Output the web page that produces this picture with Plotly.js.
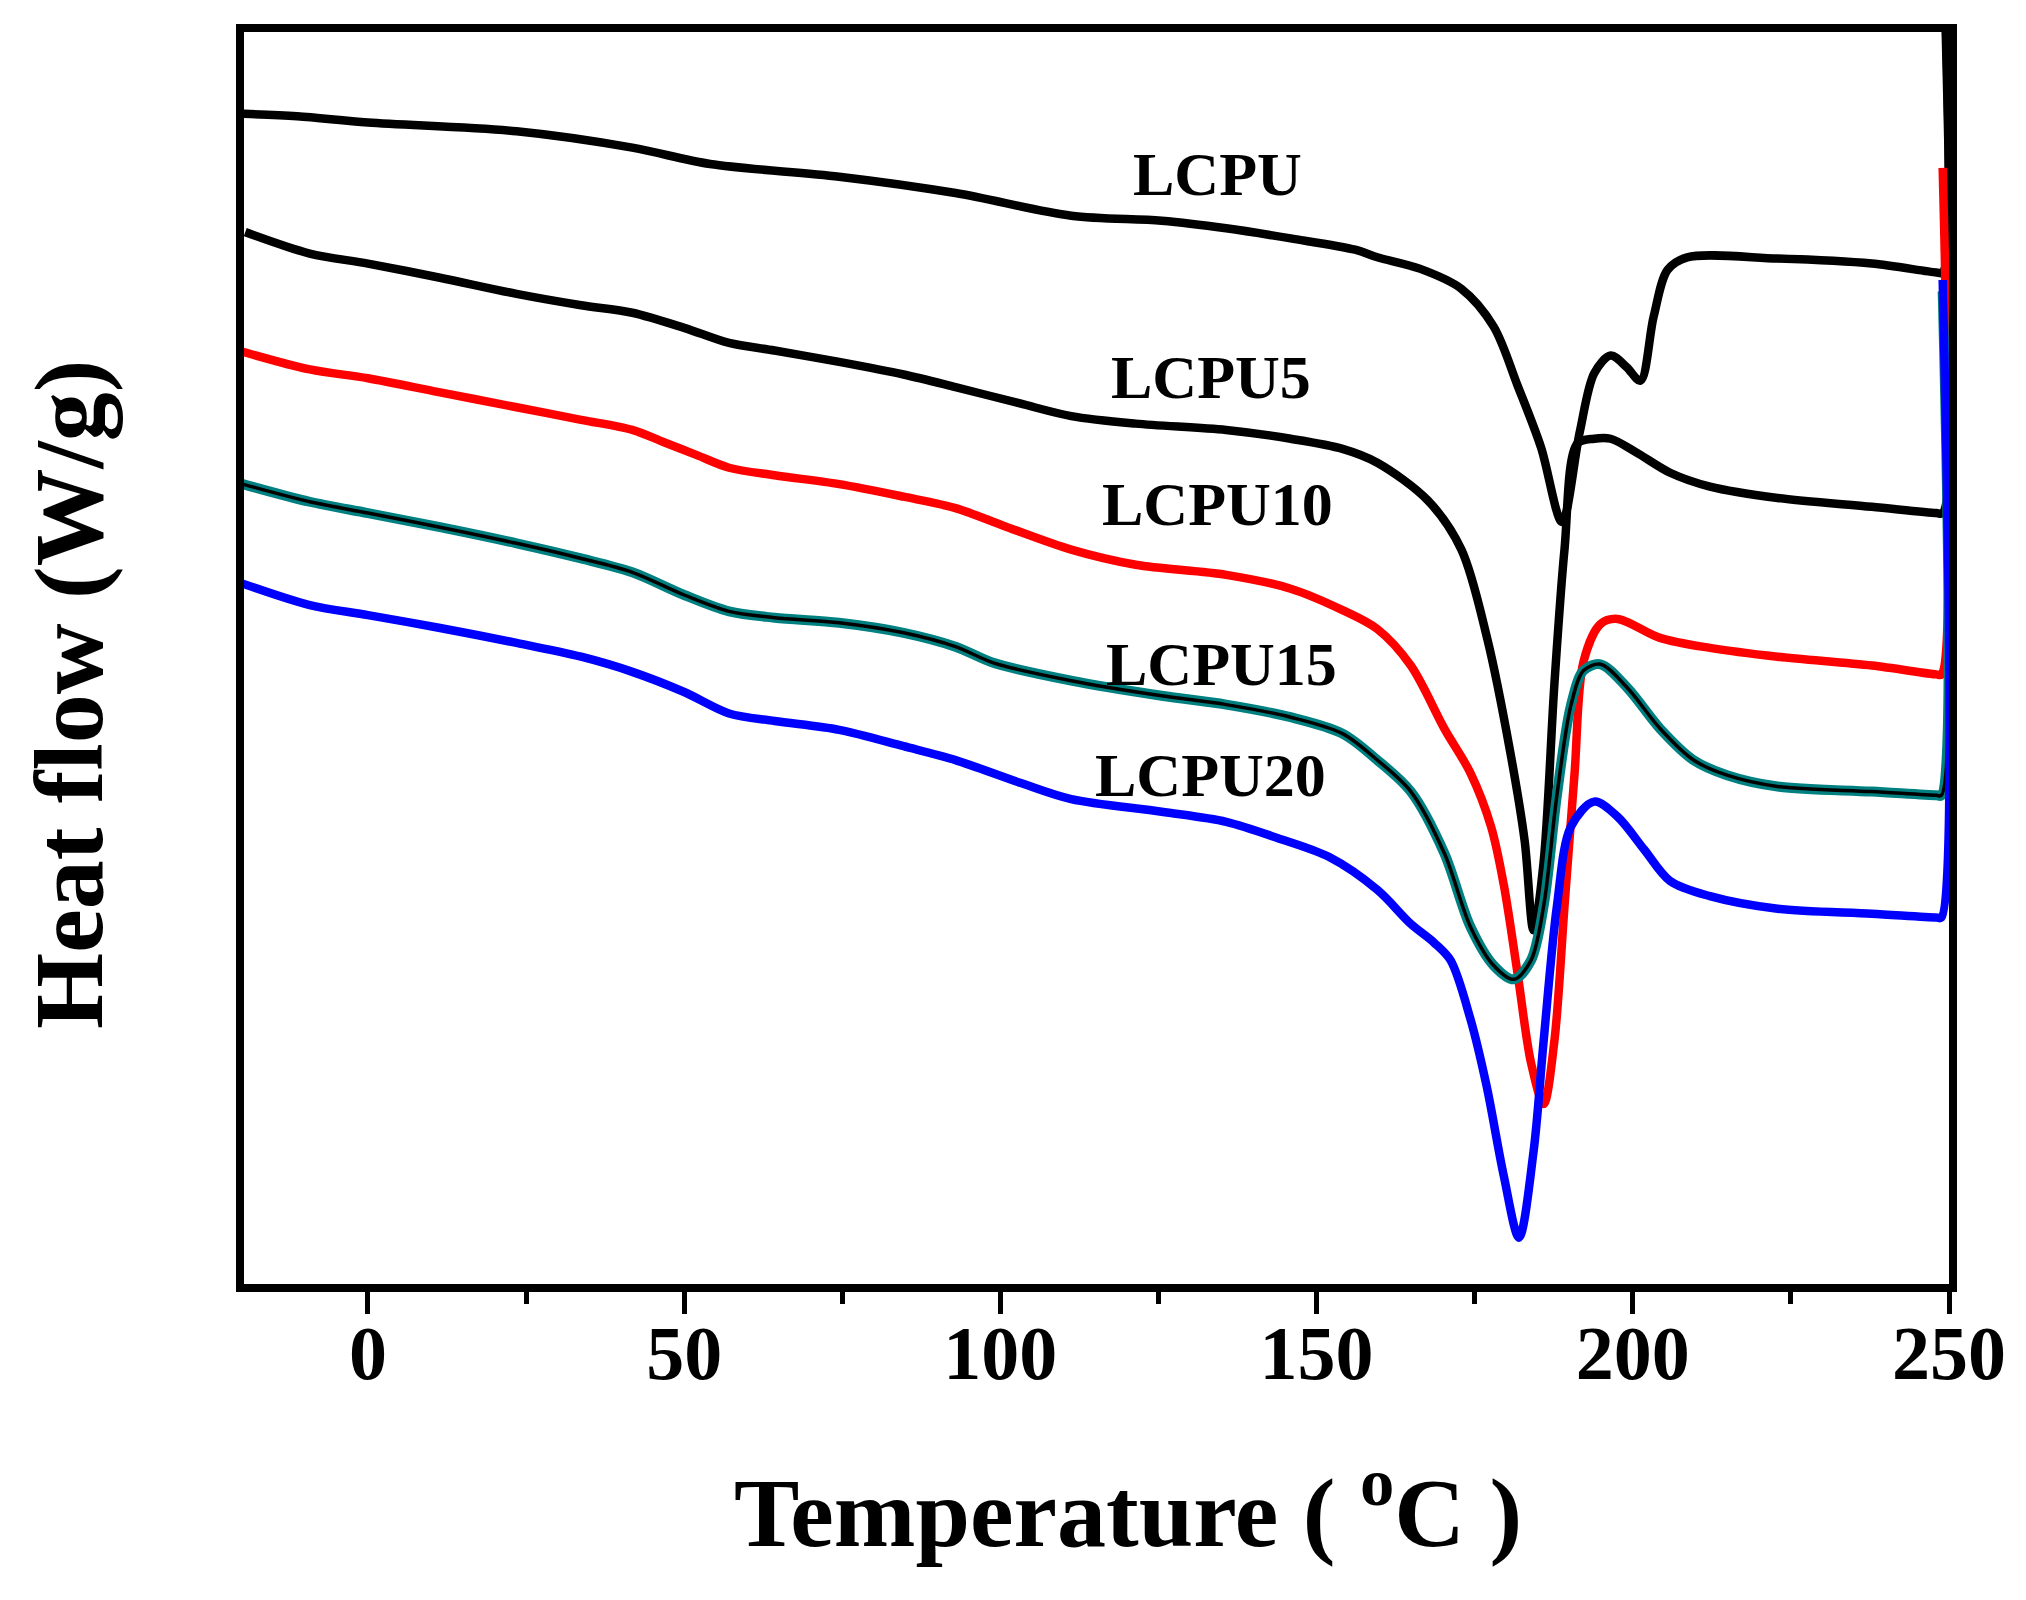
<!DOCTYPE html>
<html>
<head>
<meta charset="utf-8">
<script src="https://cdn.plot.ly/plotly-3.0.1.min.js"></script>
<style>
  html, body { margin: 0; padding: 0; background: #ffffff; }
  #chart { width: 2026px; height: 1600px; }
</style>
</head>
<body>
<div id="chart"></div>
<script>
// Temperature (°C) and heat flow (arbitrary units, curves offset vertically)
const tLCPU = [-20.2, -11.2, 0, 23.5, 41.8, 54.1, 74.5, 92.9, 111.2, 125.5, 135.7, 145.9, 156.1, 159.6, 166.3, 172.9, 178.0, 181.8, 185.5, 188.8, 191.6, 193.9, 196.5, 199.0, 201.2, 203.3, 205.5, 208.6, 222.9, 237.8, 248.0, 249.0, 249.2];
const hLCPU = [93.2, 93.0, 92.5, 91.8, 90.5, 89.2, 88.2, 86.9, 85.1, 84.7, 84.1, 83.3, 82.4, 81.8, 80.9, 79.3, 76.3, 71.6, 66.7, 60.8, 67.9, 72.6, 74.0, 73.1, 72.0, 77.1, 80.8, 81.8, 81.7, 81.3, 80.6, 80.6, 105];

const tLCPU5 = [-19.4, -9.2, 0, 11.2, 23.5, 33.7, 41.8, 50.0, 57.1, 64.3, 74.5, 84.7, 92.9, 103.1, 111.2, 121.4, 135.7, 145.9, 154.1, 159.6, 167.6, 172.9, 177.0, 180.6, 182.9, 184.3, 185.9, 187.6, 189.2, 191.2, 193.9, 196.5, 200.6, 205.9, 212.2, 222.9, 237.8, 248.0, 249.0, 249.2];
const hLCPU5 = [83.8, 82.1, 81.3, 80.2, 78.9, 78.0, 77.4, 76.2, 75.0, 74.4, 73.5, 72.5, 71.5, 70.2, 69.2, 68.6, 68.1, 67.4, 66.6, 65.5, 62.5, 58.6, 51.5, 42.6, 35.5, 28.4, 33.8, 47.9, 58.6, 67.0, 67.4, 67.4, 66.3, 64.7, 63.6, 62.7, 62.0, 61.5, 61.5, 105];

const tLCPU10 = [-19.8, -9.2, 0, 11.2, 23.5, 33.7, 41.8, 46.9, 52.0, 57.1, 64.3, 74.5, 84.7, 92.9, 101.0, 111.2, 121.4, 135.7, 145.9, 154.1, 159.6, 164.9, 170.2, 174.3, 177.6, 179.6, 181.8, 183.9, 185.9, 187.6, 189.2, 190.8, 192.2, 194.9, 197.6, 204.3, 212.2, 222.9, 237.8, 248.0, 248.8, 249.0];
const hLCPU10 = [74.3, 72.9, 72.2, 71.1, 69.9, 68.9, 68.1, 67.1, 66.1, 65.1, 64.5, 63.8, 62.8, 61.9, 60.4, 58.6, 57.4, 56.6, 55.5, 53.8, 52.3, 49.4, 44.4, 40.9, 36.6, 32.0, 24.9, 17.9, 14.6, 19.6, 30.3, 40.9, 49.7, 52.7, 53.1, 51.6, 50.8, 50.1, 49.4, 48.7, 48.7, 88.9];

const tLCPU15 = [-19.8, -9.2, 0, 11.2, 23.5, 33.7, 41.8, 50.0, 57.1, 64.3, 74.5, 84.7, 92.9, 99.0, 111.2, 125.5, 135.7, 145.9, 154.1, 159.6, 164.9, 170.2, 174.3, 178.0, 181.2, 183.9, 185.9, 188.0, 190.2, 192.2, 194.9, 199.2, 204.3, 209.6, 214.9, 222.9, 237.8, 248.0, 248.8, 249.0];
const hLCPU15 = [63.8, 62.4, 61.5, 60.4, 59.1, 57.9, 56.8, 55.0, 53.7, 53.2, 52.8, 52.0, 50.9, 49.6, 48.2, 47.0, 46.3, 45.3, 44.0, 41.9, 39.4, 34.5, 28.7, 25.6, 24.5, 26.0, 30.3, 39.1, 46.2, 49.0, 49.5, 47.6, 44.4, 41.9, 40.7, 39.8, 39.4, 39.1, 39.1, 79.1];

const tLCPU20 = [-19.8, -9.2, 0, 11.2, 23.5, 33.7, 41.8, 50.0, 57.1, 64.3, 74.5, 84.7, 92.9, 103.1, 111.2, 125.5, 135.7, 143.9, 152.0, 159.6, 164.9, 168.6, 171.2, 174.3, 176.9, 179.6, 182.0, 184.3, 185.9, 188.0, 190.2, 193.9, 197.6, 201.8, 205.9, 212.2, 222.9, 237.8, 248.0, 248.8, 249.0];
const hLCPU20 = [55.9, 54.2, 53.4, 52.4, 51.2, 50.1, 48.9, 47.3, 45.6, 45.0, 44.3, 43.0, 41.9, 40.1, 38.8, 37.8, 37.0, 35.7, 34.2, 31.6, 28.9, 27.4, 26.0, 21.4, 16.0, 8.9, 4.0, 10.8, 19.6, 30.3, 36.6, 38.6, 37.4, 34.8, 32.3, 31.1, 30.1, 29.7, 29.4, 29.4, 80.0];

const seriesNames = ['LCPU', 'LCPU5', 'LCPU10', 'LCPU15', 'LCPU20'];
const labelX = [134.3, 133.3, 134.3, 134.9, 133.3];
const labelY = [88.4, 72.3, 62.2, 49.5, 40.7];
const xTickVals = [0, 50, 100, 150, 200, 250];
const xTickText = ['0', '50', '100', '150', '200', '250'];
const xTitle = 'Temperature ( <sup>o</sup>C )';
const yTitle = 'Heat flow (W/g)';

const FONT = 'Liberation Serif, Times New Roman, serif';
const LW = 8.5;

function line(x, y, name, color, width) {
  return {
    x: x, y: y, name: name, type: 'scatter', mode: 'lines',
    line: { color: color, width: width, shape: 'spline', smoothing: 0.9 },
    hoverinfo: 'skip', showlegend: false
  };
}

const data = [
  line(tLCPU, hLCPU, seriesNames[0], '#000000', LW),
  line(tLCPU5, hLCPU5, seriesNames[1], '#000000', LW),
  line(tLCPU10, hLCPU10, seriesNames[2], '#ff0000', LW),
  line(tLCPU15, hLCPU15, seriesNames[3], '#008080', 10),
  line(tLCPU15, hLCPU15, seriesNames[3], '#000000', 3.5),
  line(tLCPU20, hLCPU20, seriesNames[4], '#0000ff', LW)
];

const annotations = seriesNames.map((n, i) => ({
  x: labelX[i], y: labelY[i], xref: 'x', yref: 'y',
  text: n, showarrow: false, xanchor: 'center', yanchor: 'middle',
  font: { family: FONT, size: 62, color: '#000000', weight: 'bold' }
}));

annotations.push({
  xref: 'paper', yref: 'paper', x: 0.5185, y: -0.1773,
  text: xTitle, showarrow: false, xanchor: 'center', yanchor: 'middle',
  font: { family: FONT, size: 98, color: '#000000', weight: 'bold' }
});
annotations.push({
  xref: 'paper', yref: 'paper', x: 0, xshift: -175, y: 0.4712,
  text: yTitle, textangle: -90, showarrow: false, xanchor: 'center', yanchor: 'middle',
  font: { family: FONT, size: 98, color: '#000000', weight: 'bold' }
});

const layout = {
  width: 2026, height: 1600,
  paper_bgcolor: '#ffffff', plot_bgcolor: '#ffffff',
  margin: { l: 244, r: 77, t: 32, b: 316 },
  showlegend: false,
  xaxis: {
    range: [-19.6, 250],
    tickmode: 'array', tickvals: xTickVals, ticktext: xTickText,
    ticks: 'outside', ticklen: 22, tickwidth: 5, tickcolor: '#000000',
    minor: { tickmode: 'linear', tick0: 25, dtick: 50, ticks: 'outside', ticklen: 12, tickwidth: 5, tickcolor: '#000000' },
    showline: true, linewidth: 8, linecolor: '#000000', mirror: true,
    showgrid: false, zeroline: false,
    tickfont: { family: FONT, size: 76, color: '#000000', weight: 'bold' },
    ticklabelstandoff: -26
  },
  yaxis: {
    range: [0.32, 99.68],
    showticklabels: false, ticks: '',
    showline: true, linewidth: 8, linecolor: '#000000', mirror: true,
    showgrid: false, zeroline: false
  },
  annotations: annotations
};

Plotly.newPlot('chart', data, layout, { displayModeBar: false, staticPlot: true });
</script>
</body>
</html>
